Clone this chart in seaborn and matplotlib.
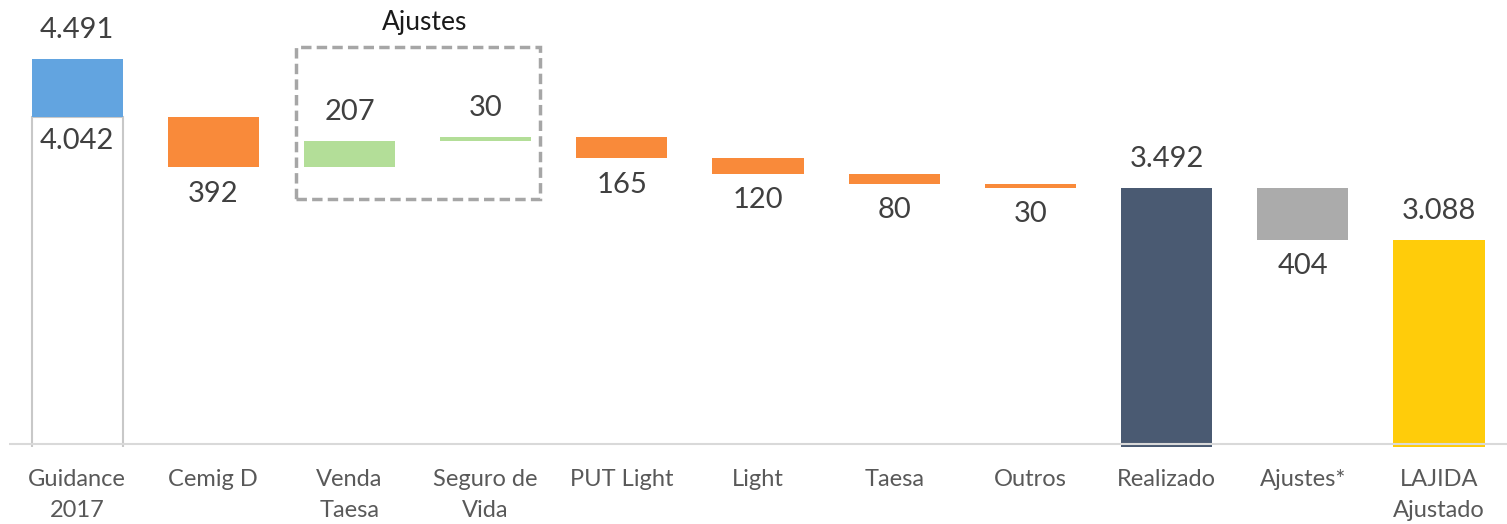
import numpy as np
import matplotlib
matplotlib.use("Agg")
import matplotlib.pyplot as plt
import seaborn as sns
from matplotlib.patches import Rectangle

# -------------------------------
# Data
# -------------------------------
categories = ["Guidance\n2017", "Cemig D", "Venda\nTaesa", "Seguro de\nVida", "PUT Light",
              "Light", "Taesa", "Outros", "Realizado", "Ajustes*", "LAJIDA\nAjustado"]
guidance_total = 4491
guidance_base = 4042
steps = [-392, 207, 30, -165, -120, -80, -30]
realizado = 3492
ajustes = -404
lajida = 3088

labels = ["4.491", "392", "207", "30", "165", "120", "80", "30", "3.492", "404", "3.088"]

# -------------------------------
# Build waterfall bottoms/tops
# -------------------------------
base = 1475
bottoms = [guidance_base]
tops = [guidance_total]
level = guidance_base
for s in steps:
    new = level + s
    bottoms.append(min(level, new))
    tops.append(max(level, new))
    level = new
bottoms += [base, realizado + ajustes, base]
tops += [realizado, realizado, lajida]
heights = np.array(tops) - np.array(bottoms)

colors = ["#62A4E0", "#F98A3A", "#B3DE98", "#B3DE98", "#F98A3A", "#F98A3A",
          "#F98A3A", "#F98A3A", "#4A5A72", "#ABABAB", "#FFCC0A"]

# -------------------------------
# Plot
# -------------------------------
sns.set_theme(style="white")
plt.rcParams["font.family"] = ["Lato", "DejaVu Sans"]

fig = plt.figure(figsize=(15.07, 5.24), dpi=100)
ax = fig.add_axes([0.006, 0.147, 0.994, 0.853])

# white part of the guidance bar (bottom edge hidden below the axes)
ax.bar(0, guidance_base - base + 100, bottom=base - 100, width=0.67, color="white",
       edgecolor="#C8C8C8", linewidth=1.5, zorder=1)

sns.barplot(x=list(range(len(categories))), y=heights, bottom=bottoms,
            color="#999999", width=0.67, ax=ax, zorder=2, linewidth=0)
for patch, c in zip(ax.patches[1:], colors):
    patch.set_facecolor(c)

ax.axhline(1500, color="#D9D9D9", lw=1.5, zorder=3)

# value labels
above = [True, False, True, True, False, False, False, False, True, False, True]
for i, (lab, up) in enumerate(zip(labels, above)):
    if up:
        ax.annotate(lab, (i, tops[i]), xytext=(0, 21), textcoords="offset points",
                    ha="center", va="center", fontsize=21, color="#404040")
    else:
        ax.annotate(lab, (i, bottoms[i]), xytext=(0, -19), textcoords="offset points",
                    ha="center", va="center", fontsize=21, color="#404040")
ax.annotate("4.042", (0, guidance_base), xytext=(0, -17), textcoords="offset points",
            ha="center", va="center", fontsize=21, color="#404040")

# dashed box around adjustments
ax.add_patch(Rectangle((1.604, 3403), 3.40 - 1.604, 4585 - 3403, fill=False,
                       edgecolor="#A6A6A6", lw=2.5, linestyle=(0, (3, 1.5)), zorder=4))
ax.text(2.55, 4780, "Ajustes", ha="center", va="center", fontsize=19, color="#1A1A1A")

ax.set_xlim(-0.5, 10.5)
ax.set_ylim(base, 4953)
ax.set_xticks(range(len(categories)))
ax.set_xticklabels(categories, fontsize=17, color="#595959", linespacing=1.55)
ax.tick_params(axis="x", length=0, pad=16)
ax.set_yticks([])
ax.set_xlabel("")
for sp in ax.spines.values():
    sp.set_visible(False)

plt.savefig("out.png", dpi=100)
